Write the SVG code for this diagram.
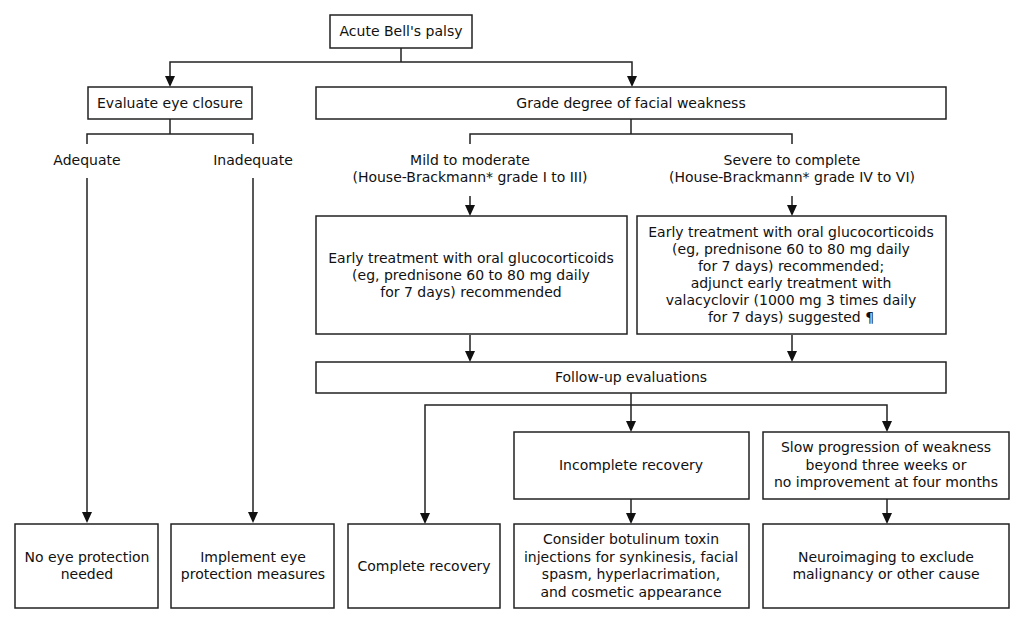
<svg xmlns="http://www.w3.org/2000/svg" width="1024" height="624" viewBox="0 0 1024 624">
<style>
.box{fill:#fff;stroke:#222;stroke-width:1.5}
.ln{fill:none;stroke:#222;stroke-width:1.5}
text{font-family:"DejaVu Sans",Verdana,sans-serif;font-size:14px;fill:#111;text-anchor:middle}
</style>
<defs>
<path id="ah" d="M-5,-11 L5,-11 L0,0 Z" fill="#111"/>
</defs>
<rect width="1024" height="624" fill="#fff"/>
<g id="connectors">
<path class="ln" d="M401,48 V62 M170,76 V62 H632 V76"/>
<path class="ln" d="M170,119 V134 M87,144 V134 H253 V144"/>
<path class="ln" d="M631,119 V134 M470,144 V134 H792 V144"/>
<path class="ln" d="M87,178 V512 M253,178 V512"/>
<path class="ln" d="M470,196 V206 M792,196 V206"/>
<path class="ln" d="M470,335 V352 M792,335 V352"/>
<path class="ln" d="M631,393 V405 M425,514 V405 H887 V422 M631,405 V422"/>
<path class="ln" d="M631,499 V514 M887,499 V514"/>
<use href="#ah" x="170" y="87"/>
<use href="#ah" x="632" y="87"/>
<use href="#ah" x="87" y="523"/>
<use href="#ah" x="253" y="523"/>
<use href="#ah" x="470" y="216"/>
<use href="#ah" x="792" y="216"/>
<use href="#ah" x="470" y="362"/>
<use href="#ah" x="792" y="362"/>
<use href="#ah" x="425" y="524"/>
<use href="#ah" x="631" y="432"/>
<use href="#ah" x="887" y="432"/>
<use href="#ah" x="631" y="524"/>
<use href="#ah" x="887" y="524"/>
</g>
<g id="n-acute"><rect class="box" x="330" y="15" width="142" height="33"/><text x="401" y="36">Acute Bell's palsy</text></g>
<g id="n-eval"><rect class="box" x="88" y="87" width="164" height="32"/><text x="170" y="108">Evaluate eye closure</text></g>
<g id="n-grade"><rect class="box" x="316" y="87" width="630" height="32"/><text x="631" y="108">Grade degree of facial weakness</text></g>
<g id="n-adequate"><text x="87" y="165">Adequate</text></g>
<g id="n-inadequate"><text x="253" y="165">Inadequate</text></g>
<g id="n-mild"><text x="470" y="165">Mild to moderate</text><text x="470" y="182">(House-Brackmann* grade I to III)</text></g>
<g id="n-severe"><text x="792" y="165">Severe to complete</text><text x="792" y="182">(House-Brackmann* grade IV to VI)</text></g>
<g id="n-treat1"><rect class="box" x="316" y="216" width="311" height="118"/>
<text x="471" y="263">Early treatment with oral glucocorticoids</text>
<text x="471" y="280">(eg, prednisone 60 to 80 mg daily</text>
<text x="471" y="297">for 7 days) recommended</text></g>
<g id="n-treat2"><rect class="box" x="637" y="216" width="309" height="118"/>
<text x="791" y="237">Early treatment with oral glucocorticoids</text>
<text x="791" y="254">(eg, prednisone 60 to 80 mg daily</text>
<text x="791" y="271">for 7 days) recommended;</text>
<text x="791" y="288">adjunct early treatment with</text>
<text x="791" y="305">valacyclovir (1000 mg 3 times daily</text>
<text x="791" y="322">for 7 days) suggested ¶</text></g>
<g id="n-follow"><rect class="box" x="316" y="362" width="630" height="31"/><text x="631" y="382">Follow-up evaluations</text></g>
<g id="n-incomplete"><rect class="box" x="514" y="432" width="235" height="67"/><text x="631" y="470">Incomplete recovery</text></g>
<g id="n-slow"><rect class="box" x="763" y="432" width="246" height="67"/>
<text x="886" y="452">Slow progression of weakness</text>
<text x="886" y="470">beyond three weeks or</text>
<text x="886" y="487">no improvement at four months</text></g>
<g id="n-noeye"><rect class="box" x="15" y="524" width="143" height="84"/><text x="87" y="562">No eye protection</text><text x="87" y="579">needed</text></g>
<g id="n-implement"><rect class="box" x="171" y="524" width="163" height="84"/><text x="253" y="562">Implement eye</text><text x="253" y="579">protection measures</text></g>
<g id="n-complete"><rect class="box" x="348" y="524" width="152" height="84"/><text x="424" y="571">Complete recovery</text></g>
<g id="n-botox"><rect class="box" x="514" y="524" width="235" height="84"/>
<text x="631" y="544">Consider botulinum toxin</text>
<text x="631" y="562">injections for synkinesis, facial</text>
<text x="631" y="579">spasm, hyperlacrimation,</text>
<text x="631" y="597">and cosmetic appearance</text></g>
<g id="n-neuro"><rect class="box" x="763" y="524" width="246" height="84"/>
<text x="886" y="562">Neuroimaging to exclude</text>
<text x="886" y="579">malignancy or other cause</text></g>
</svg>
